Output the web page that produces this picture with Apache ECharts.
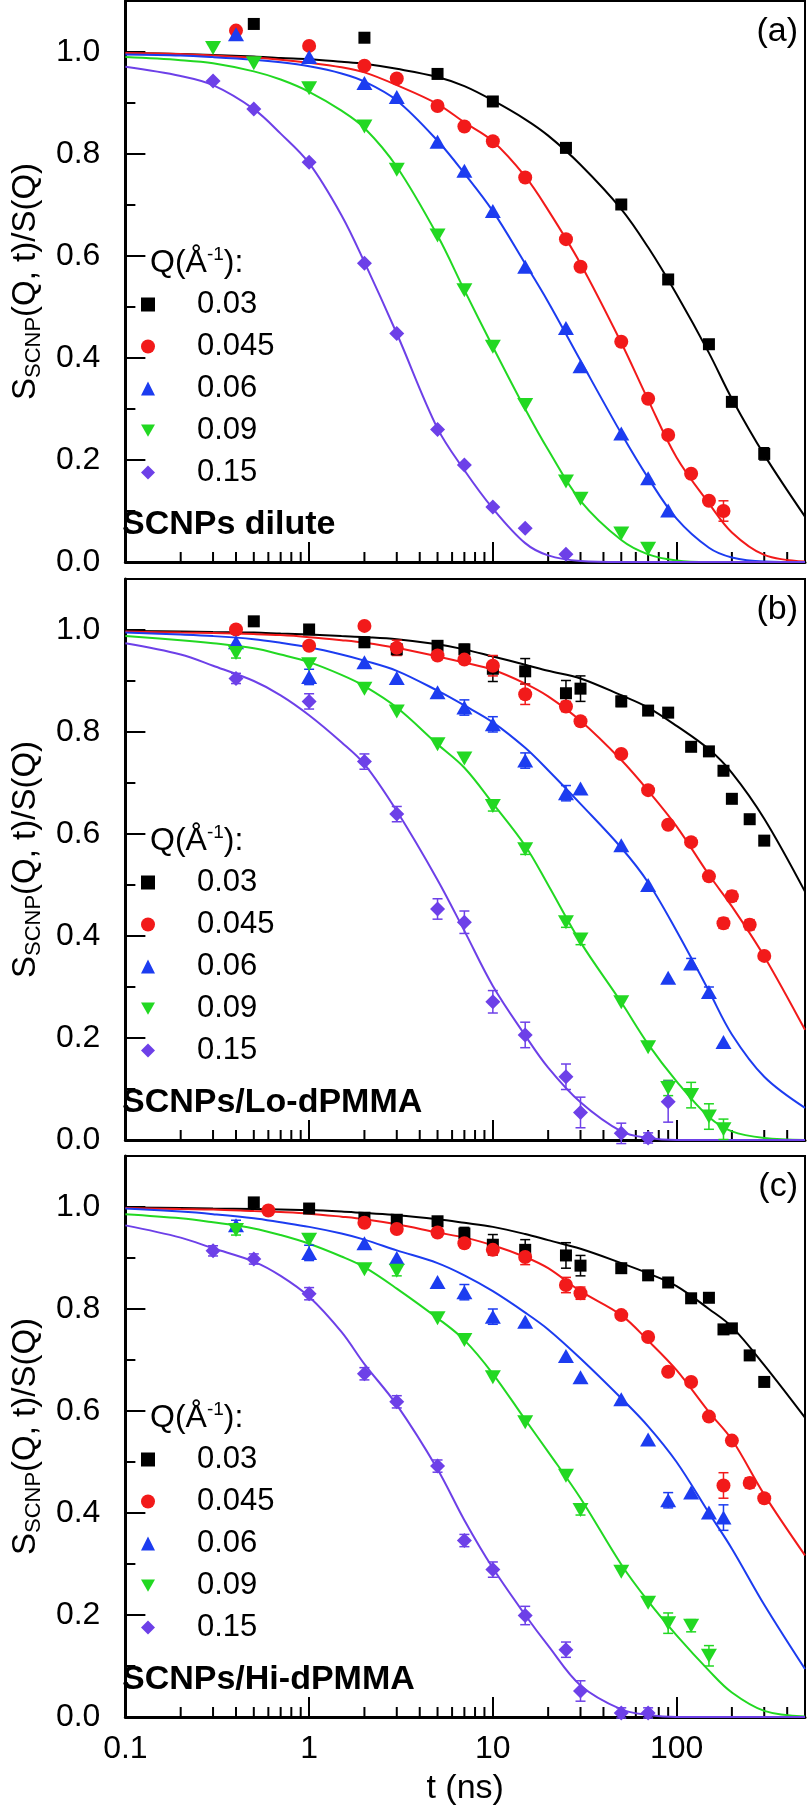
<!DOCTYPE html>
<html>
<head>
<meta charset="utf-8">
<script src="https://cdn.jsdelivr.net/npm/echarts@6.0.0/dist/echarts.min.js"></script>
<style>
  html, body { margin: 0; padding: 0; background: #fff; }
  #chart { width: 807px; height: 1808px; }
</style>
</head>
<body>
<div id="chart"></div>
<script>
// legend entries, Q in 1/Angstrom
const qLabels = ['0.03', '0.045', '0.06', '0.09', '0.15'];
const panelTags = ['(a)', '(b)', '(c)'];
const panelNames = ['SCNPs dilute', 'SCNPs/Lo-dPMMA', 'SCNPs/Hi-dPMMA'];
// minor ticks of the log t axis and of the y axis
const xMinor = [0.2, 0.3, 0.4, 0.5, 0.6, 0.7, 0.8, 0.9, 2, 3, 4, 5, 6, 7, 8, 9,
  20, 30, 40, 50, 60, 70, 80, 90, 200, 300, 400];
const yMinor = [0.1, 0.3, 0.5, 0.7, 0.9];

// measured points: [t (ns), S(Q,t)/S(Q), error]
// (a) SCNPs dilute
const a003 = [[0.5,1.055,0],[2,1.028,0],[5,0.957,0],[10,0.903,0],[25,0.812,0],[50,0.701,0],[90,0.554,0],[150,0.427,0],[200,0.314,0],[300,0.212,0.012]];
const a0045 = [[0.4,1.042,0],[1,1.012,0],[2,0.973,0],[3,0.948,0],[5,0.894,0],[7,0.854,0],[10,0.825,0],[15,0.754,0],[25,0.633,0],[30,0.579,0],[50,0.432,0],[70,0.32,0],[90,0.249,0],[120,0.173,0],[150,0.12,0],[180,0.1,0.02]];
const a006 = [[0.4,1.035,0],[1,0.99,0],[2,0.939,0],[3,0.912,0],[5,0.824,0],[7,0.767,0],[10,0.688,0],[15,0.579,0],[25,0.459,0],[30,0.384,0],[50,0.252,0],[70,0.164,0],[90,0.101,0]];
const a009 = [[0.3,1.008,0],[0.5,0.978,0],[1,0.929,0],[2,0.854,0],[3,0.769,0],[5,0.64,0],[7,0.533,0],[10,0.422,0],[15,0.308,0],[25,0.158,0],[30,0.124,0],[50,0.056,0],[70,0.026,0]];
const a015 = [[0.3,0.943,0],[0.5,0.888,0],[1,0.784,0],[2,0.586,0],[3,0.448,0],[5,0.26,0],[7,0.19,0],[10,0.108,0],[15,0.066,0],[25,0.015,0]];
// (b) SCNPs/Lo-dPMMA
const b003 = [[0.5,1.017,0],[1,1.001,0],[2,0.976,0.01],[3,0.962,0.01],[5,0.969,0],[7,0.962,0.01],[10,0.924,0.025],[15,0.919,0.025],[25,0.876,0.025],[30,0.885,0.025],[50,0.86,0.01],[70,0.842,0],[90,0.838,0],[120,0.771,0],[150,0.762,0],[180,0.724,0],[200,0.669,0],[250,0.629,0],[300,0.587,0]];
const b0045 = [[0.4,1.001,0],[1,0.969,0],[2,1.008,0],[3,0.965,0.015],[5,0.95,0],[7,0.942,0],[10,0.93,0.02],[15,0.874,0.02],[25,0.85,0.01],[30,0.821,0],[50,0.757,0],[70,0.686,0],[90,0.618,0],[120,0.584,0],[150,0.517,0],[180,0.425,0.01],[200,0.478,0.01],[250,0.422,0.01],[300,0.361,0]];
const b006 = [[0.4,0.976,0],[1,0.908,0.015],[2,0.937,0],[3,0.906,0],[5,0.878,0],[7,0.848,0.015],[10,0.815,0.015],[15,0.744,0.015],[25,0.68,0.015],[30,0.689,0],[50,0.578,0],[70,0.5,0],[90,0.318,0],[120,0.346,0.01],[150,0.29,0.01],[180,0.192,0]];
const b009 = [[0.4,0.955,0.01],[1,0.933,0],[2,0.885,0],[3,0.84,0],[5,0.776,0],[7,0.748,0],[10,0.655,0.01],[15,0.57,0.01],[25,0.427,0.01],[30,0.393,0.01],[50,0.27,0],[70,0.182,0],[90,0.102,0.015],[120,0.088,0.025],[150,0.046,0.025],[180,0.021,0.02]];
const b015 = [[0.4,0.905,0.01],[1,0.86,0.015],[2,0.742,0.015],[3,0.639,0.015],[5,0.453,0.02],[7,0.427,0.022],[10,0.271,0.022],[15,0.206,0.025],[25,0.124,0.025],[30,0.054,0.03],[50,0.013,0.02],[70,0.004,0.01],[90,0.075,0.04]];
// (c) SCNPs/Hi-dPMMA
const c003 = [[0.5,1.009,0],[1,0.997,0],[2,0.979,0],[3,0.975,0],[5,0.972,0],[7,0.948,0.012],[10,0.926,0.02],[15,0.916,0.02],[25,0.905,0.025],[30,0.885,0.02],[50,0.88,0],[70,0.866,0],[90,0.852,0],[120,0.821,0],[150,0.822,0],[180,0.76,0],[200,0.762,0],[250,0.709,0],[300,0.657,0]];
const c0045 = [[0.6,0.993,0],[2,0.969,0],[3,0.957,0],[5,0.95,0],[7,0.929,0],[10,0.916,0.01],[15,0.902,0.015],[25,0.847,0.015],[30,0.831,0.012],[50,0.788,0],[70,0.745,0],[90,0.677,0],[120,0.657,0],[150,0.589,0],[180,0.454,0.025],[200,0.542,0],[250,0.459,0.01],[300,0.429,0]];
const c006 = [[0.4,0.964,0.01],[1,0.91,0.015],[2,0.929,0],[3,0.9,0],[5,0.853,0],[7,0.833,0.015],[10,0.785,0.015],[15,0.775,0],[25,0.708,0],[30,0.666,0],[50,0.623,0],[70,0.544,0],[90,0.425,0.015],[120,0.44,0],[150,0.401,0],[180,0.391,0.025]];
const c009 = [[0.4,0.955,0.01],[1,0.936,0],[2,0.878,0],[3,0.875,0.01],[5,0.782,0],[7,0.739,0],[10,0.666,0],[15,0.578,0],[25,0.473,0],[30,0.406,0.01],[50,0.285,0],[70,0.224,0],[90,0.184,0.02],[120,0.179,0.012],[150,0.12,0.02]];
const c015 = [[0.3,0.914,0.01],[0.5,0.898,0.01],[1,0.83,0.012],[2,0.673,0.012],[3,0.618,0.012],[5,0.492,0.012],[7,0.346,0.012],[10,0.289,0.015],[15,0.199,0.018],[25,0.132,0.015],[30,0.051,0.02],[50,0.008,0.01],[70,0.008,0.01]];

// fit curves at these times
const fitT = [0.1, 0.2, 0.3, 0.5, 0.7, 1, 1.5, 2, 3, 5, 7, 10, 15, 20, 30, 50, 70, 100, 150, 200, 300, 500];
const fitA003 = [0.998,0.996,0.994,0.991,0.988,0.986,0.981,0.977,0.967,0.951,0.933,0.905,0.868,0.836,0.779,0.692,0.617,0.525,0.41,0.32,0.21,0.089];
const fitA0045 = [0.998,0.996,0.993,0.989,0.985,0.979,0.97,0.96,0.935,0.898,0.862,0.825,0.756,0.69,0.585,0.43,0.318,0.205,0.115,0.058,0.014,0.001];
const fitA006 = [0.995,0.993,0.99,0.985,0.98,0.972,0.958,0.942,0.905,0.826,0.762,0.688,0.585,0.51,0.395,0.252,0.165,0.085,0.028,0.009,0.001,0];
const fitA009 = [0.99,0.984,0.978,0.962,0.946,0.922,0.885,0.851,0.775,0.64,0.533,0.422,0.3,0.22,0.12,0.043,0.015,0.003,0,0,0,0];
const fitA015 = [0.971,0.953,0.935,0.888,0.84,0.782,0.68,0.588,0.448,0.262,0.18,0.105,0.037,0.013,0.002,0,0,0,0,0,0,0];
const fitB003 = [0.998,0.997,0.996,0.995,0.993,0.991,0.988,0.986,0.982,0.972,0.962,0.948,0.932,0.92,0.905,0.872,0.848,0.812,0.766,0.72,0.63,0.487];
const fitB0045 = [0.997,0.995,0.994,0.992,0.99,0.986,0.98,0.975,0.965,0.948,0.936,0.922,0.895,0.87,0.822,0.745,0.685,0.615,0.52,0.458,0.36,0.216];
const fitB006 = [0.995,0.991,0.988,0.982,0.975,0.966,0.952,0.94,0.92,0.881,0.852,0.819,0.769,0.725,0.659,0.573,0.505,0.41,0.292,0.207,0.124,0.063];
const fitB009 = [0.988,0.98,0.974,0.964,0.952,0.937,0.912,0.89,0.848,0.776,0.73,0.66,0.577,0.5,0.388,0.27,0.188,0.115,0.045,0.017,0.004,0];
const fitB015 = [0.974,0.952,0.93,0.9,0.872,0.833,0.78,0.737,0.645,0.51,0.41,0.302,0.205,0.142,0.074,0.017,0.004,0,0,0,0,0];
const fitC003 = [0.999,0.998,0.997,0.996,0.995,0.994,0.991,0.988,0.984,0.976,0.969,0.961,0.947,0.935,0.918,0.89,0.87,0.845,0.8,0.765,0.69,0.587];
const fitC0045 = [0.998,0.996,0.995,0.992,0.99,0.987,0.981,0.976,0.966,0.95,0.94,0.925,0.902,0.88,0.835,0.788,0.738,0.68,0.598,0.544,0.436,0.317];
const fitC006 = [0.997,0.991,0.986,0.978,0.97,0.961,0.948,0.936,0.915,0.89,0.866,0.835,0.793,0.76,0.703,0.625,0.57,0.5,0.4,0.33,0.22,0.094];
const fitC009 = [0.986,0.978,0.97,0.958,0.945,0.928,0.903,0.882,0.84,0.782,0.739,0.673,0.583,0.52,0.429,0.299,0.227,0.16,0.091,0.048,0.012,0.001];
const fitC015 = [0.964,0.94,0.919,0.893,0.865,0.824,0.755,0.692,0.612,0.486,0.386,0.292,0.2,0.14,0.062,0.015,0.004,0,0,0,0,0];

const points = [[a003, a0045, a006, a009, a015], [b003, b0045, b006, b009, b015], [c003, c0045, c006, c009, c015]];
const fits = [[fitA003, fitA0045, fitA006, fitA009, fitA015], [fitB003, fitB0045, fitB006, fitB009, fitB015], [fitC003, fitC0045, fitC006, fitC009, fitC015]];

const colors = ['#000000', '#f21a1a', '#1c3cf0', '#22d822', '#6d40e8'];
const symbols = ['rect', 'circle', 'triangle', 'triangle', 'diamond'];
const symbolSizes = [12, 14, [16, 14], [16, 14], 15];
const rotates = [0, 0, 0, 180, 0];
const legendIcons = ['rect', 'circle', 'triangle', 'path://M0,0L16,0L8,14Z', 'diamond'];

const FONT = 'Liberation Sans, Arial, sans-serif';
const tops = [1, 579, 1156];
const H = 561;

let chart = echarts.init(document.getElementById('chart'), null, { renderer: 'canvas' });

function errBar(color) {
  return function (params, api) {
    let t = api.value(0), y = api.value(1), e = api.value(2);
    if (!e) return null;
    let hi = api.coord([t, y + e]), lo = api.coord([t, y - e]);
    let x = hi[0], w = 5;
    let st = { stroke: color, lineWidth: 1.5 };
    return {
      type: 'group',
      children: [
        { type: 'line', shape: { x1: x, y1: hi[1], x2: x, y2: lo[1] }, style: st },
        { type: 'line', shape: { x1: x - w, y1: hi[1], x2: x + w, y2: hi[1] }, style: st },
        { type: 'line', shape: { x1: x - w, y1: lo[1], x2: x + w, y2: lo[1] }, style: st }
      ]
    };
  };
}

function xMinorTick(params, api) {
  let p = api.coord([api.value(0), 0]);
  return { type: 'line', shape: { x1: p[0], y1: p[1], x2: p[0], y2: p[1] - 10 }, style: { stroke: '#000', lineWidth: 2 } };
}
function yMinorTick(params, api) {
  let p = api.coord([0.1, api.value(1)]);
  return { type: 'line', shape: { x1: p[0], y1: p[1], x2: p[0] + 10, y2: p[1] }, style: { stroke: '#000', lineWidth: 2 } };
}

let grids = [], xAxes = [], yAxes = [], series = [], legends = [], titles = [];

for (let k = 0; k < 3; k++) {
  let top = tops[k];
  grids.push({ left: 108, top: top, width: 697, height: H, show: true, borderColor: '#000', borderWidth: 2, backgroundColor: 'transparent' });
  xAxes.push({
    type: 'log', logBase: 10, gridIndex: k, min: 0.1, max: 500,
    name: k === 2 ? 't (ns)' : '', nameLocation: 'middle', nameGap: 55,
    nameTextStyle: { fontFamily: FONT, fontSize: 34, color: '#000' },
    axisLine: { show: true, lineStyle: { color: '#000', width: 3 } },
    axisTick: { show: true, inside: true, length: 20, lineStyle: { color: '#000', width: 2 } },
    axisLabel: {
      show: k === 2, margin: 16, showMaxLabel: false,
      fontFamily: FONT, fontSize: 32, color: '#000',
      formatter: v => (v < 1 ? v.toFixed(1) : String(Math.round(v)))
    },
    splitLine: { show: false }, minorTick: { show: false }
  });
  yAxes.push({
    type: 'value', gridIndex: k, min: 0, max: 1.1, interval: 0.2,
    name: '{m|S}{s|SCNP}{m|(Q, t)/S(Q)}', nameLocation: 'middle', nameRotate: 90, nameGap: 72,
    nameTextStyle: {
      color: '#000',
      rich: {
        m: { fontFamily: FONT, fontSize: 33, color: '#000', lineHeight: 38 },
        s: { fontFamily: FONT, fontSize: 22, color: '#000', lineHeight: 38, verticalAlign: 'bottom', padding: [15, 0, 0, 0] }
      }
    },
    axisLine: { show: true, lineStyle: { color: '#000', width: 3 } },
    axisTick: { show: true, inside: true, length: 20, lineStyle: { color: '#000', width: 2 } },
    axisLabel: { margin: 25, showMaxLabel: false, fontFamily: FONT, fontSize: 32, color: '#000', formatter: v => v.toFixed(1) },
    splitLine: { show: false }
  });

  // minor ticks
  series.push({
    type: 'custom', xAxisIndex: k, yAxisIndex: k, renderItem: xMinorTick, silent: true, z: 1,
    data: xMinor.map(t => [t, 0])
  });
  series.push({
    type: 'custom', xAxisIndex: k, yAxisIndex: k, renderItem: yMinorTick, silent: true, z: 1,
    data: yMinor.map(v => [0.1, v])
  });

  for (let i = 0; i < 5; i++) {
    series.push({
      type: 'line', name: 'fit ' + qLabels[i], xAxisIndex: k, yAxisIndex: k,
      data: fitT.map((t, j) => [t, fits[k][i][j]]),
      smooth: 0.35, showSymbol: false, symbol: 'none',
      lineStyle: { color: colors[i], width: 2 }, z: 2, silent: true
    });
  }
  for (let i = 0; i < 5; i++) {
    series.push({
      type: 'custom', xAxisIndex: k, yAxisIndex: k, renderItem: errBar(colors[i]),
      encode: { x: 0, y: 1 }, data: points[k][i], z: 3, silent: true
    });
  }
  for (let i = 0; i < 5; i++) {
    series.push({
      type: 'scatter', name: qLabels[i], xAxisIndex: k, yAxisIndex: k,
      data: points[k][i].map(p => [p[0], p[1]]),
      symbol: symbols[i], symbolSize: symbolSizes[i], symbolRotate: rotates[i],
      itemStyle: { color: colors[i], opacity: 1 }, z: 4
    });
  }

  legends.push({
    data: qLabels.map((q, i) => ({ name: q, icon: legendIcons[i] })),
    orient: 'vertical', left: 141, top: top + 288, padding: 0,
    itemWidth: 14, itemHeight: 14, itemGap: 11, selectedMode: false,
    formatter: name => '{p|}' + name,
    textStyle: {
      fontFamily: FONT, fontSize: 31, color: '#000', lineHeight: 31,
      rich: { p: { width: 37, lineHeight: 31 } }
    }
  });

  titles.push({
    text: '{m|Q(Å}{u|-1}{m|):}', left: 150, top: top + 244, padding: 0,
    textStyle: {
      fontWeight: 'normal',
      rich: {
        m: { fontFamily: FONT, fontSize: 32, fontWeight: 'normal', color: '#000', lineHeight: 36 },
        u: { fontFamily: FONT, fontSize: 19, fontWeight: 'normal', color: '#000', lineHeight: 36, verticalAlign: 'top', padding: [0, 0, 14, 0] }
      }
    }
  });
  titles.push({
    text: panelTags[k], right: 9, top: top + 14, padding: 0,
    textStyle: { fontFamily: FONT, fontSize: 34, fontWeight: 'normal', color: '#000' }
  });
  titles.push({
    text: panelNames[k], left: 122, top: top + 507, padding: 0,
    textStyle: { fontFamily: FONT, fontSize: 34, fontWeight: 'bold', color: '#000' }
  });
}

chart.setOption({
  backgroundColor: '#fff',
  animation: false,
  title: titles,
  legend: legends,
  grid: grids,
  xAxis: xAxes,
  yAxis: yAxes,
  series: series
});
</script>
</body>
</html>
